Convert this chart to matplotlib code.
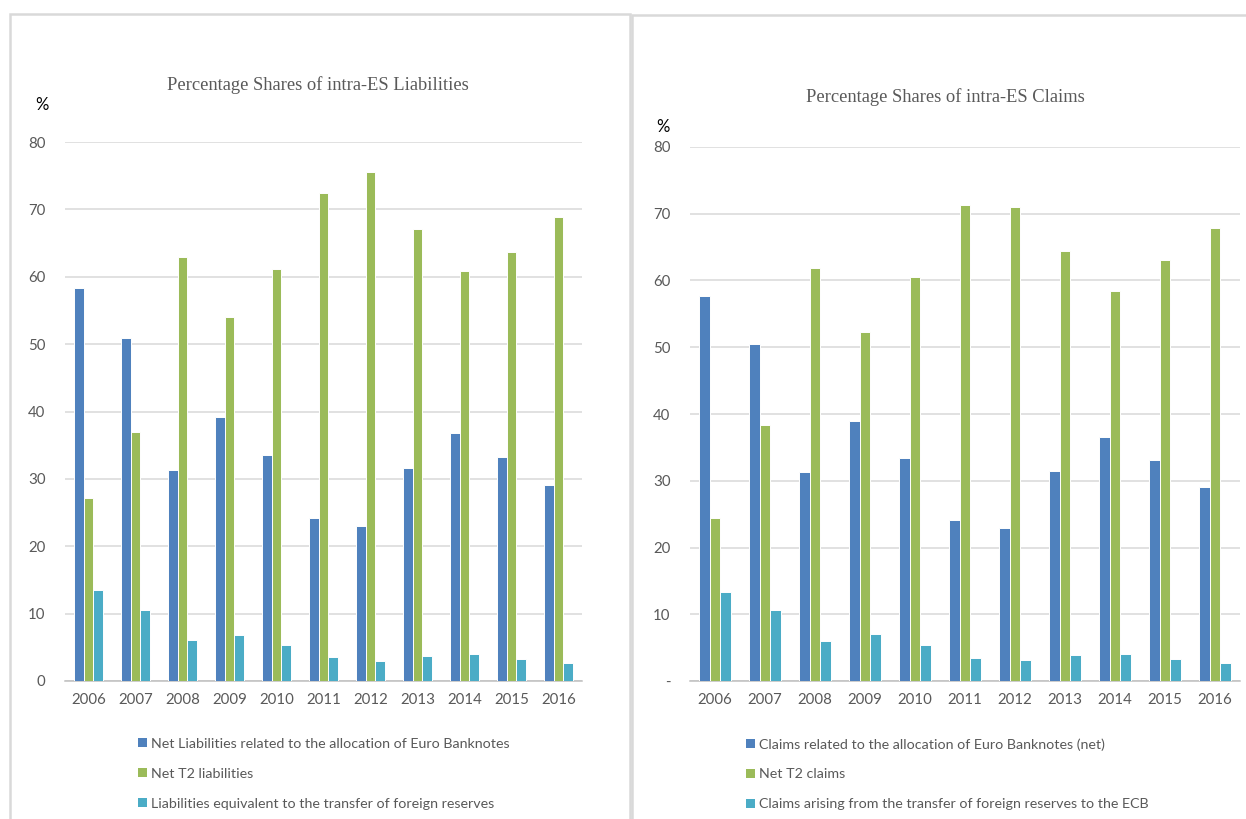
import matplotlib.pyplot as plt
import numpy as np
from matplotlib.patches import Rectangle, Patch

years = ['2006', '2007', '2008', '2009', '2010', '2011', '2012', '2013', '2014', '2015', '2016']

liab_banknotes = [58.3, 50.9, 31.3, 39.2, 33.5, 24.2, 23.0, 31.6, 36.8, 33.2, 29.1]
liab_t2 = [27.1, 37.0, 62.9, 54.0, 61.1, 72.4, 75.5, 67.1, 60.8, 63.6, 68.8]
liab_reserves = [13.5, 10.5, 6.1, 6.9, 5.3, 3.5, 3.0, 3.7, 4.0, 3.2, 2.6]

claim_banknotes = [57.7, 50.5, 31.3, 38.9, 33.4, 24.1, 22.9, 31.5, 36.6, 33.1, 29.1]
claim_t2 = [24.4, 38.4, 61.9, 52.3, 60.5, 71.3, 71.0, 64.4, 58.4, 63.1, 67.9]
claim_reserves = [13.3, 10.6, 6.0, 7.0, 5.4, 3.5, 3.1, 3.9, 4.0, 3.3, 2.7]

liab_labels = ['Net Liabilities related to the allocation of Euro Banknotes',
               'Net T2 liabilities',
               'Liabilities equivalent to the transfer of foreign reserves']
claim_labels = ['Claims related to the allocation of Euro Banknotes (net)',
                'Net T2 claims',
                'Claims arising from the transfer of foreign reserves to the ECB']

colors = ['#4F81BD', '#9BBB59', '#4BACC6']
W, H = 1246, 819

plt.rcParams['font.family'] = ['Lato', 'DejaVu Sans']

fig = plt.figure(figsize=(W / 100, H / 100), dpi=100)

# panel frames
fig.patches.append(Rectangle((10 / W, -0.01), 620 / W, 1 - 14 / H + 0.01, transform=fig.transFigure,
                             fill=False, edgecolor='#D9D9D9', linewidth=1.8))
fig.patches.append(Rectangle((632 / W, -0.01), 1, 1 - 15 / H + 0.01, transform=fig.transFigure,
                             fill=False, edgecolor='#D9D9D9', linewidth=1.8))


def draw_panel(rect, series, labels, title, title_xy, pct_xy, legend_x, zero_label):
    ax = fig.add_axes(rect)
    x = np.arange(len(years))
    bw = 0.21
    for i, vals in enumerate(series):
        ax.bar(x + (i - 1) * bw, vals, width=bw, color=colors[i], edgecolor='white', linewidth=0.7,
               label=labels[i], zorder=3)
    ax.set_xlim(-0.5, len(years) - 0.5)
    ax.set_ylim(0, 80)
    ax.set_yticks(range(0, 81, 10))
    ax.set_yticklabels([zero_label] + [str(v) for v in range(10, 81, 10)])
    ax.set_xticks(x)
    ax.set_xticklabels(years)
    ax.yaxis.grid(True, color='#D9D9D9', linewidth=1.1, zorder=0)
    ax.set_axisbelow(True)
    for s in ['top', 'right', 'left']:
        ax.spines[s].set_visible(False)
    ax.spines['bottom'].set_color('#BFBFBF')
    ax.spines['bottom'].set_linewidth(1.1)
    ax.tick_params(length=0, labelsize=10.8, labelcolor='#595959')
    ax.tick_params(axis='y', pad=14)
    ax.tick_params(axis='x', pad=9)
    fig.text(title_xy[0] / W, 1 - title_xy[1] / H, title, ha='center', va='center',
             fontsize=13.3, color='#595959', family='Liberation Serif')
    fig.text(pct_xy[0] / W, 1 - pct_xy[1] / H, '%', ha='center', va='center',
             fontsize=12, color='#000000')
    handles = [Patch(facecolor=c) for c in colors]
    fig.legend(handles, labels, loc='upper left', bbox_to_anchor=(legend_x / W, 1 - 738 / H),
               frameon=False, fontsize=10.3, handlelength=0.6, handleheight=0.6,
               handletextpad=0.3, labelspacing=1.25, borderpad=0, borderaxespad=0,
               labelcolor='#595959')
    return ax


draw_panel([65 / W, 1 - 681 / H, 517 / W, 539 / H],
           [liab_banknotes, liab_t2, liab_reserves], liab_labels,
           'Percentage Shares of intra-ES Liabilities', (318, 85), (42, 105), 138, '0')
draw_panel([690 / W, 1 - 681 / H, 550 / W, 534 / H],
           [claim_banknotes, claim_t2, claim_reserves], claim_labels,
           'Percentage Shares of intra-ES Claims', (945, 97), (663, 127), 746, '-')

fig.savefig('out.png', dpi=100)
